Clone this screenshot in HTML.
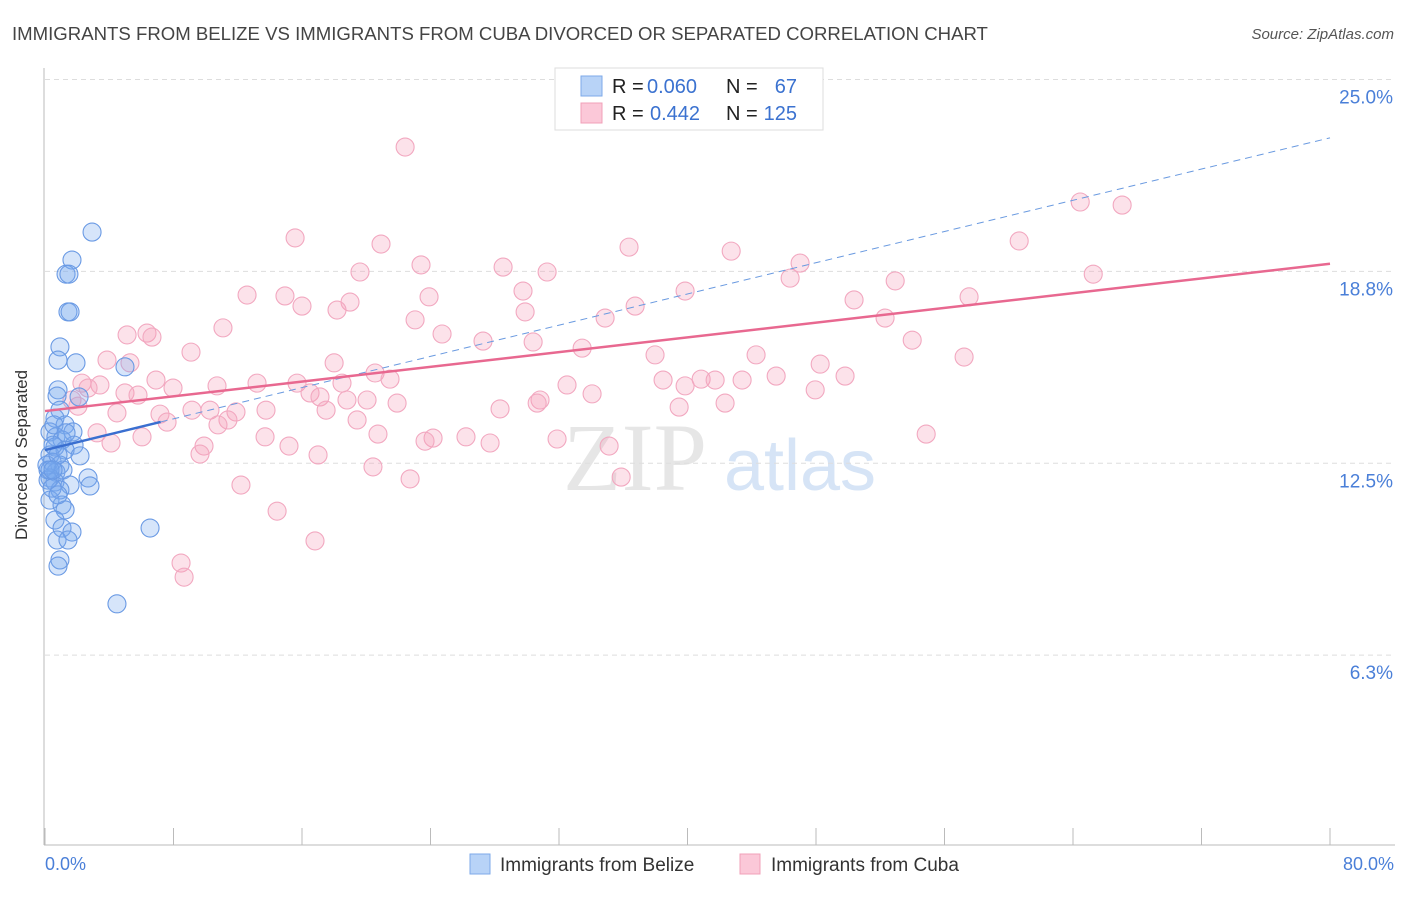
<!DOCTYPE html>
<html><head><meta charset="utf-8"><style>
body{margin:0;background:#fff;font-family:"Liberation Sans",sans-serif}
</style></head><body>
<svg id="c" width="1406" height="892" xmlns="http://www.w3.org/2000/svg">
<text x="12" y="40" font-size="18.6" fill="#444">IMMIGRANTS FROM BELIZE VS IMMIGRANTS FROM CUBA DIVORCED OR SEPARATED CORRELATION CHART</text>
<text x="1394" y="39" font-size="15" fill="#555" font-style="italic" text-anchor="end">Source: ZipAtlas.com</text>
<text x="27" y="455" font-size="17" fill="#333" text-anchor="middle" transform="rotate(-90 27 455)">Divorced or Separated</text>
<g><text x="635" y="490" font-size="96" font-family="Liberation Serif" fill="#e6e6e6" text-anchor="middle">ZIP</text><text x="800" y="490" font-size="72" fill="#d6e4f6" text-anchor="middle">atlas</text></g>
<g id="grid"></g><g id="axes"></g><g id="pts"></g><g id="lines"></g>
<g>
<rect x="555" y="68" width="268" height="62" fill="#fff" stroke="#ddd"/>
<rect x="581" y="76" width="21" height="20" fill="#b8d3f7" stroke="#7eaae8"/>
<rect x="581" y="103" width="21" height="20" fill="#fbc8d8" stroke="#f0a0b8"/>
<text x="612" y="93" font-size="20" fill="#222">R =</text>
<text x="647" y="93" font-size="20" fill="#3b72d0">0.060</text>
<text x="726" y="93" font-size="20" fill="#222">N =</text>
<text x="797" y="93" font-size="20" fill="#3b72d0" text-anchor="end">67</text>
<text x="612" y="120" font-size="20" fill="#222">R =</text>
<text x="650" y="120" font-size="20" fill="#3b72d0">0.442</text>
<text x="726" y="120" font-size="20" fill="#222">N =</text>
<text x="797" y="120" font-size="20" fill="#3b72d0" text-anchor="end">125</text>
</g>
<g>
<rect x="470" y="854" width="20" height="20" fill="#b8d3f7" stroke="#7eaae8"/>
<text x="500" y="871" font-size="19" fill="#333">Immigrants from Belize</text>
<rect x="740" y="854" width="20" height="20" fill="#fbc8d8" stroke="#f0a0b8"/>
<text x="771" y="871" font-size="19" fill="#333">Immigrants from Cuba</text>
</g>
</svg>
<script>
const yTicks=[25,18.75,12.5,6.25];
const yTickLabels=["25.0%","18.8%","12.5%","6.3%"];
const xTickLabels=["0.0%","80.0%"];
const belizeX=[2.93,1.68,1.31,1.49,1.43,1.56,0.93,0.81,1.93,4.98,0.81,0.75,2.12,0.93,0.62,1.25,0.31,0.68,1.74,1.06,0.62,1.81,1.25,2.18,0.31,0.44,0.93,0.19,0.68,1.12,2.68,2.8,0.31,0.62,1.56,0.93,0.31,1.06,1.25,0.62,1.06,1.68,6.54,0.75,1.43,0.93,0.81,4.48,0.19,0.44,0.81,0.5,0.12,0.56,1.31,0.81,0.31,0.5];
const belizeY=[20.03,19.12,18.66,18.66,17.43,17.43,16.29,15.86,15.77,15.64,14.89,14.69,14.66,14.23,13.97,13.75,13.52,13.36,13.52,13.26,13.03,13.09,12.93,12.74,12.77,12.54,12.44,12.28,12.21,12.28,12.02,11.76,12.02,11.89,11.79,11.63,11.3,11.14,10.98,10.65,10.39,10.26,10.39,10,10,9.35,9.15,7.92,11.95,11.69,11.47,13.09,12.44,13.75,13.49,12.77,12.28,12.28];
const cubaX=[22.42,64.45,67.06,15.57,20.92,36.36,42.72,60.65,47.01,23.41,28.52,31.26,19.61,65.26,46.39,52.93,29.76,39.85,12.58,14.94,23.91,18.99,16,18.18,57.53,50.37,29.89,36.74,34.87,23.04,52.3,11.08,24.72,5.11,6.35,6.66,27.27,30.39,53.99,33.44,9.09,37.98,44.27,3.86,5.29,18,48.26,57.22,20.55,21.48,45.52,49.81,6.91,38.48,40.85,41.72,43.4,2.3,3.42,13.2,15.69,32.5,10.71,7.97,18.49,16.5,34.06,39.85,47.95,4.98,5.79,2.68,1.68,18.8,20.05,17.12,21.92,30.82,30.64,2.05,9.15,10.27,13.76,17.5,28.33,42.34,39.48,4.48,7.16,11.89,11.39,10.77,19.43,7.6,3.24,6.04,13.7,20.73,26.21,24.16,23.66,31.88,27.71,35.12,54.86,4.11,15.19,9.9,9.65,17,20.42,12.2,22.73,35.87,14.45,16.81,8.47,8.66];
const cubaY=[22.8,21.01,20.91,19.84,19.64,19.54,19.41,19.74,19.02,18.96,18.89,18.73,18.73,18.66,18.53,18.44,18.11,18.11,17.98,17.95,17.92,17.75,17.62,17.49,17.92,17.82,17.43,17.62,17.23,17.17,17.23,16.91,16.71,16.68,16.74,16.61,16.48,16.45,16.51,16.25,16.12,16.03,16.03,15.86,15.77,15.77,15.73,15.96,15.44,15.24,15.34,15.34,15.21,15.21,15.24,15.21,15.21,15.11,15.05,15.11,15.11,15.05,15.02,14.95,15.11,14.79,14.76,15.02,14.89,14.79,14.72,14.95,14.56,14.56,14.56,14.66,14.46,14.56,14.46,14.36,14.23,14.23,14.23,14.23,14.27,14.46,14.33,14.14,14.1,14.17,13.91,13.75,13.91,13.84,13.49,13.36,13.36,13.45,13.36,13.32,13.22,13.29,13.16,13.06,13.45,13.16,13.06,13.06,12.8,12.77,12.38,11.79,11.99,12.05,10.94,9.97,9.25,8.79];
const belizeTrend=[12.93,23.1];
const belizeSolidEnd=7.2;
const cubaTrend=[14.2,19.0];
const NS="http://www.w3.org/2000/svg";
const xs=v=>45+v/80*1285, ys=v=>847-v*30.7;
function mk(tag,attrs,parent){const e=document.createElementNS(NS,tag);for(const k in attrs)e.setAttribute(k,attrs[k]);document.getElementById(parent).appendChild(e);return e;}
yTicks.forEach((t,i)=>{
 const l=mk('line',{x1:45,x2:1395,y1:ys(t),y2:ys(t),stroke:'#ddd','stroke-dasharray':'5,4'},'grid');
 
 
 const tx=mk('text',{x:1393,y:ys(t)+24,'font-size':19,fill:'#4a7fd8','text-anchor':'end'},'grid');
 tx.textContent=yTickLabels[i];
 
 
});
let a=mk('line',{x1:44,x2:44,y1:68,y2:845,stroke:'#bbb'},'axes');


a=mk('line',{x1:44,x2:1395,y1:845,y2:845,stroke:'#bbb'},'axes');


for(let v=0;v<=80;v+=8){
 const t=mk('line',{x1:xs(v),x2:xs(v),y1:828,y2:845,stroke:'#bbb'},'axes');
 
 
}
[[0,'start',45],[80,'end',1394]].forEach((d,i)=>{
 const t=mk('text',{x:d[2],y:870,'font-size':18,fill:'#4a7fd8','text-anchor':d[1]},'axes');
 t.textContent=xTickLabels[i];
 
 
});
cubaX.forEach((x,i)=>{
 const c=mk('circle',{cx:xs(x),cy:ys(cubaY[i]),r:9,fill:'rgba(245,160,185,0.3)',stroke:'#f2a8c0','stroke-width':1.1},'pts');
 
 
});
belizeX.forEach((x,i)=>{
 const c=mk('circle',{cx:xs(x),cy:ys(belizeY[i]),r:9,fill:'rgba(120,170,240,0.3)',stroke:'#6a9ae4','stroke-width':1.1},'pts');
 
 
});
const by=x=>belizeTrend[0]+(belizeTrend[1]-belizeTrend[0])*x/80;
let l=mk('line',{x1:xs(belizeSolidEnd),y1:ys(by(belizeSolidEnd)),x2:xs(80),y2:ys(belizeTrend[1]),stroke:'#6a9ae0','stroke-width':1,'stroke-dasharray':'7,5'},'lines');


l=mk('line',{x1:xs(0),y1:ys(belizeTrend[0]),x2:xs(belizeSolidEnd),y2:ys(by(belizeSolidEnd)),stroke:'#3a6fd0','stroke-width':2.5},'lines');


l=mk('line',{x1:xs(0),y1:ys(cubaTrend[0]),x2:xs(80),y2:ys(cubaTrend[1]),stroke:'#e86890','stroke-width':2.5},'lines');


</script>
</body></html>
